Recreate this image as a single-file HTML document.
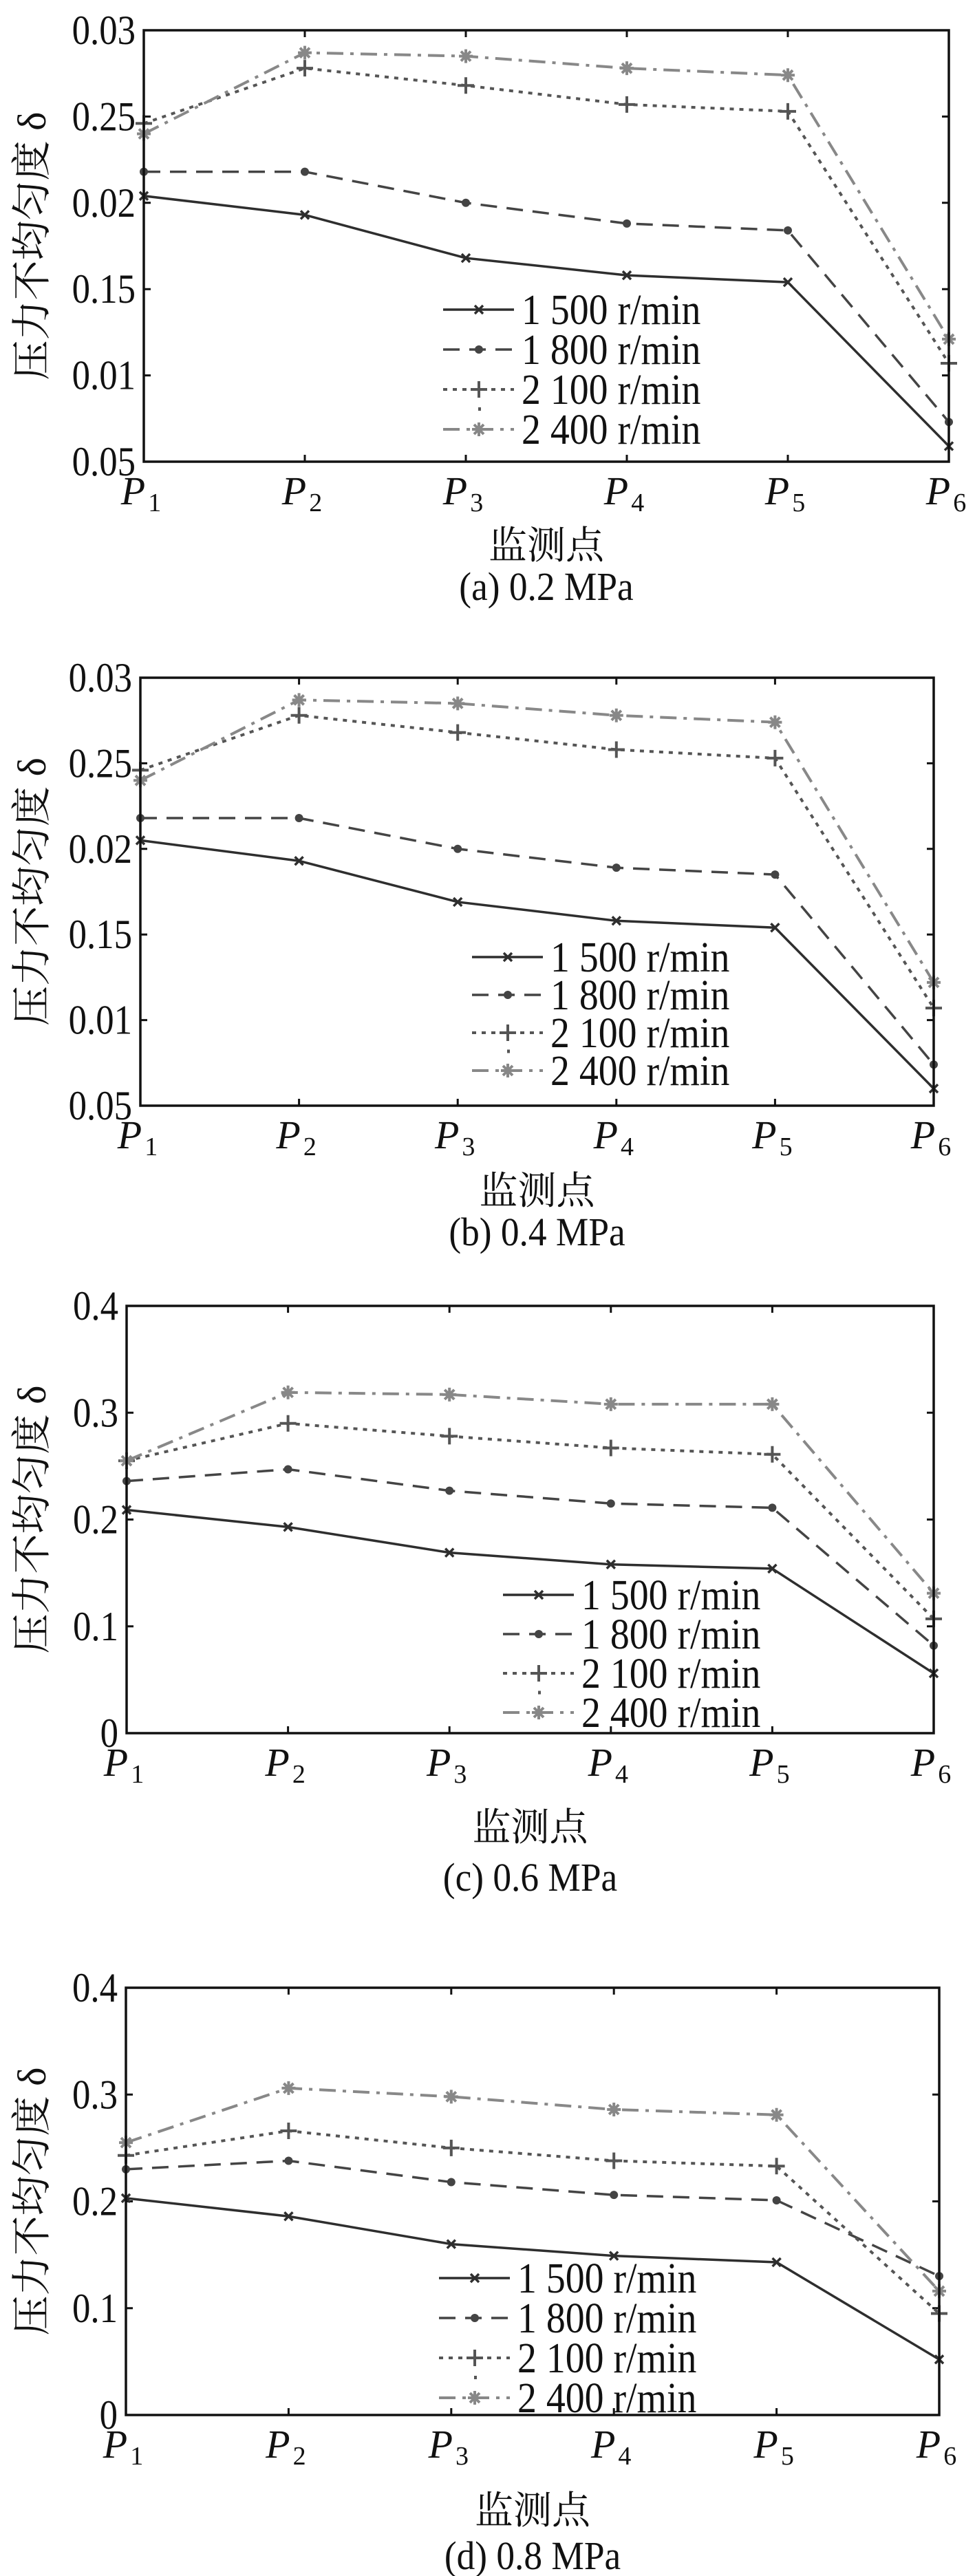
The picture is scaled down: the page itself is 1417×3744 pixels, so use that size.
<!DOCTYPE html>
<html><head><meta charset="utf-8">
<style>
html,body{margin:0;padding:0;background:#fff;}
svg{display:block;}
text{font-family:"Liberation Serif","Noto Serif CJK SC","Noto Sans CJK SC",serif;fill:#111;}
</style></head>
<body>
<svg id="chart" xmlns="http://www.w3.org/2000/svg" width="1417" height="3744" viewBox="0 0 1417 3744"></svg>
<script>
const categories = ["1","2","3","4","5","6"];
const seriesNames = ["1 500 r/min","1 800 r/min","2 100 r/min","2 400 r/min"];
const ticksAB = [0.05,0.10,0.15,0.20,0.25,0.30];
const tickLabelsAB = ["0.05","0.01","0.15","0.02","0.25","0.03"];
const ticksCD = [0,0.1,0.2,0.3,0.4];
const tickLabelsCD = ["0","0.1","0.2","0.3","0.4"];
const captions = ["(a) 0.2 MPa","(b) 0.4 MPa","(c) 0.6 MPa","(d) 0.8 MPa"];
// panel a (0.2 MPa)
const a1500 = [0.204,0.193,0.168,0.158,0.154,0.059];
const a1800 = [0.218,0.218,0.200,0.188,0.184,0.073];
const a2100 = [0.246,0.278,0.268,0.257,0.253,0.107];
const a2400 = [0.240,0.287,0.285,0.278,0.274,0.121];
// panel b (0.4 MPa)
const b1500 = [0.205,0.193,0.169,0.158,0.154,0.060];
const b1800 = [0.218,0.218,0.200,0.189,0.185,0.074];
const b2100 = [0.246,0.278,0.268,0.258,0.253,0.107];
const b2400 = [0.240,0.287,0.285,0.278,0.274,0.122];
// panel c (0.6 MPa)
const c1500 = [0.209,0.193,0.169,0.158,0.154,0.056];
const c1800 = [0.236,0.247,0.227,0.215,0.211,0.082];
const c2100 = [0.255,0.290,0.278,0.267,0.261,0.107];
const c2400 = [0.255,0.319,0.317,0.308,0.308,0.131];
// panel d (0.8 MPa)
const d1500 = [0.203,0.186,0.160,0.149,0.143,0.052];
const d1800 = [0.230,0.238,0.218,0.206,0.201,0.130];
const d2100 = [0.243,0.266,0.250,0.238,0.233,0.095];
const d2400 = [0.255,0.306,0.298,0.286,0.281,0.116];

const NS="http://www.w3.org/2000/svg";
const svg=document.getElementById('chart');
function mk(tag,attrs,parent){const e=document.createElementNS(NS,tag);for(const k in attrs)e.setAttribute(k,attrs[k]);(parent||svg).appendChild(e);return e;}

const panels=[
 {id:'a',L:209,R:1379,T:44,B:671,ticks:ticksAB,labels:tickLabelsAB,min:0.05,max:0.30,data:[a1500,a1800,a2100,a2400],legX:644,legY:450,legDy:58,xl:792,cap:852},
 {id:'b',L:204,R:1357,T:985,B:1607,ticks:ticksAB,labels:tickLabelsAB,min:0.05,max:0.30,data:[b1500,b1800,b2100,b2400],legX:686,legY:1391,legDy:55,xl:1730,cap:1790},
 {id:'c',L:184,R:1357,T:1898,B:2519,ticks:ticksCD,labels:tickLabelsCD,min:0,max:0.4,data:[c1500,c1800,c2100,c2400],legX:731,legY:2318,legDy:57,xl:2655,cap:2728},
 {id:'d',L:183,R:1365,T:2889,B:3510,ticks:ticksCD,labels:tickLabelsCD,min:0,max:0.4,data:[d1500,d1800,d2100,d2400],legX:638,legY:3311,legDy:58,xl:3648,cap:3714}
];
const styles=[
 {stroke:'#2e2e2e',w:3.5,dash:'',marker:'x'},
 {stroke:'#444',w:3.5,dash:'24 14',marker:'dot'},
 {stroke:'#555',w:4,dash:'6 8',marker:'plus'},
 {stroke:'#888',w:4,dash:'24 10 5 10',marker:'star'}
];
function drawMarker(g,type,x,y,color){
  if(type==='x'){mk('path',{d:`M${x-6} ${y-6}L${x+6} ${y+6}M${x-6} ${y+6}L${x+6} ${y-6}`,stroke:color,'stroke-width':3.5,fill:'none'},g);}
  else if(type==='dot'){mk('circle',{cx:x,cy:y,r:6,fill:color},g);}
  else if(type==='plus'){mk('path',{d:`M${x-12} ${y}L${x+12} ${y}M${x} ${y-12}L${x} ${y+12}`,stroke:color,'stroke-width':4,fill:'none'},g);}
  else {mk('path',{d:`M${x-10} ${y}L${x+10} ${y}M${x} ${y-10}L${x} ${y+10}M${x-7} ${y-7}L${x+7} ${y+7}M${x-7} ${y+7}L${x+7} ${y-7}`,stroke:color,'stroke-width':4,fill:'none'},g);mk('circle',{cx:x,cy:y,r:5,fill:color},g);}
}
panels.forEach((p,pi)=>{
  const g=mk('g',{});
  
  
  const xs=i=>p.L+(p.R-p.L)*i/(categories.length-1);
  const ys=v=>p.B-(v-p.min)/(p.max-p.min)*(p.B-p.T);
  p.ticks.forEach((t,i)=>{
    const y=ys(t);
    const tk=mk('path',{d:`M${p.L} ${y}H${p.L+10}M${p.R} ${y}H${p.R-10}`,stroke:'#111','stroke-width':3},g);
    
    
    const tl=mk('text',{x:0,y:0,'text-anchor':'end','font-size':60,transform:`translate(${p.L-12} ${y+20}) scale(0.88 1)`},g);
    
    
    tl.textContent=p.labels[i];
  });
  categories.forEach((c,i)=>{
    const x=xs(i);
    const tk=mk('path',{d:`M${x} ${p.B}V${p.B-10}M${x} ${p.T}V${p.T+10}`,stroke:'#111','stroke-width':3},g);
    
    
    const tl=mk('text',{x:x-4,y:p.B+62,'text-anchor':'middle','font-size':58,'font-style':'italic'},g);
    
    
    tl.textContent='P';
    const sub=mk('tspan',{'font-size':38,'font-style':'normal',dx:4,dy:10},tl);
    sub.textContent=c;
  });
  p.data.forEach((vals,si)=>{
    const st=styles[si];
    const sg=mk('g',{},g);
    
    
    const pts=vals.map((v,i)=>xs(i)+','+ys(v)).join(' ');
    mk('polyline',{points:pts,fill:'none',stroke:st.stroke,'stroke-width':st.w,'stroke-dasharray':st.dash},sg);
    vals.forEach((v,i)=>drawMarker(sg,st.marker,xs(i),ys(v),st.stroke));
  });
  const fr=mk('rect',{x:p.L,y:p.T,width:p.R-p.L,height:p.B-p.T,fill:'none',stroke:'#111','stroke-width':3.5},g);
  
  
  const lg=mk('g',{},g);
  
  
  seriesNames.forEach((n,si)=>{
    const st=styles[si];
    const y=p.legY+si*p.legDy;
    const le=mk('g',{},lg);
    
    
    mk('line',{x1:p.legX,y1:y,x2:p.legX+103,y2:y,stroke:st.stroke,'stroke-width':st.w,'stroke-dasharray':st.dash},le);
    drawMarker(le,st.marker,p.legX+52,y,st.stroke);
    const t=mk('text',{x:0,y:0,'font-size':62,transform:`translate(${p.legX+114} ${y+21}) scale(0.9 1)`},le);
    t.textContent=n;
  });
  mk('rect',{x:p.legX+51,y:p.legY+2.5*p.legDy-3,width:4,height:5,fill:'#555'},lg);
  const cx=(p.L+p.R)/2, cy=(p.T+p.B)/2;
  const yt=mk('text',{x:0,y:0,'text-anchor':'middle','font-size':58,transform:`translate(66 ${cy}) rotate(-90)`},g);
  
  
  yt.textContent='压力不均匀度 δ';
  const xt=mk('text',{x:cx,y:p.xl+20,'text-anchor':'middle','font-size':56},g);
  
  
  xt.textContent='监测点';
  const cp=mk('text',{x:0,y:0,'text-anchor':'middle','font-size':58,transform:`translate(${cx} ${p.cap+20}) scale(0.92 1)`},g);
  
  
  cp.textContent=captions[pi];
});
</script>
</body></html>
